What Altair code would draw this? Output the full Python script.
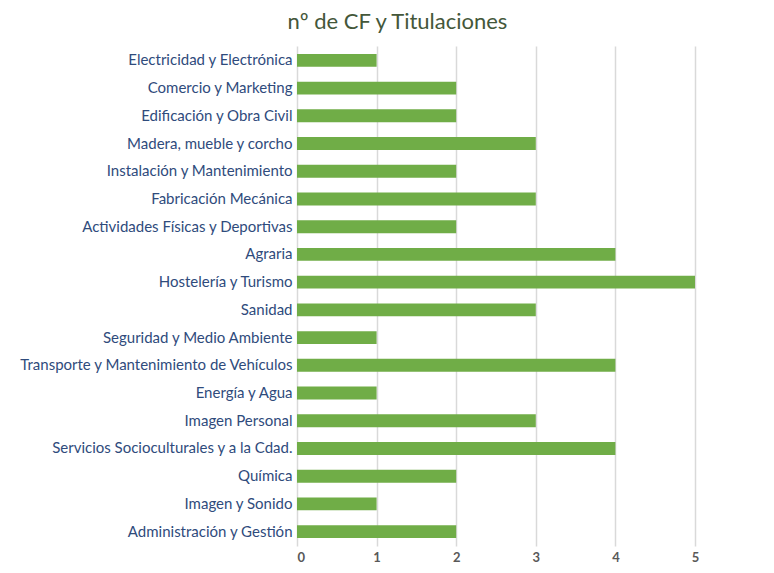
import altair as alt
import pandas as pd

categories = [
    "Electricidad y Electrónica",
    "Comercio y Marketing",
    "Edificación y Obra Civil",
    "Madera, mueble y corcho",
    "Instalación y Mantenimiento",
    "Fabricación Mecánica",
    "Actividades Físicas y Deportivas",
    "Agraria",
    "Hostelería y Turismo",
    "Sanidad",
    "Seguridad y Medio Ambiente",
    "Transporte y Mantenimiento de Vehículos",
    "Energía y Agua",
    "Imagen Personal",
    "Servicios Socioculturales y a la Cdad.",
    "Química",
    "Imagen y Sonido",
    "Administración y Gestión",
]
values = [1, 2, 2, 3, 2, 3, 2, 4, 5, 3, 1, 4, 1, 3, 4, 2, 1, 2]
x_ticks = [0, 1, 2, 3, 4, 5]

df = pd.DataFrame({"cat": categories, "val": values})

chart = alt.Chart(df).mark_bar(color="#70ad47").encode(
    x=alt.X("val:Q", scale=alt.Scale(domain=[0, 5.892], nice=False, zero=True),
            axis=alt.Axis(values=x_ticks, title=None, domain=False, ticks=False,
                          grid=True, gridColor="#d9d9d9", gridWidth=1.5,
                          labelColor="#595959", labelFont="Lato", labelFontSize=13,
                          labelFontWeight="bold", labelPadding=5)),
    y=alt.Y("cat:N", sort=categories,
            scale=alt.Scale(paddingInner=0.535, paddingOuter=0.286),
            axis=alt.Axis(title=None, domain=False, ticks=False, grid=False,
                          labelColor="#2f4b7c", labelFont="Lato", labelFontSize=15,
                          labelLimit=400, labelPadding=5)),
).properties(
    width=469,
    height=500,
    title=alt.TitleParams("nº de CF y Titulaciones", font="Lato", fontSize=22,
                          fontWeight="normal", color="#44573a", anchor="middle",
                          dx=-134, offset=12),
    autosize=alt.AutoSizeParams(type="none"),
    padding={"left": 289, "top": 38, "right": 0, "bottom": 19},
).configure_view(stroke=None)

chart.save("out.html", embed_options={"renderer": "svg", "actions": False})
